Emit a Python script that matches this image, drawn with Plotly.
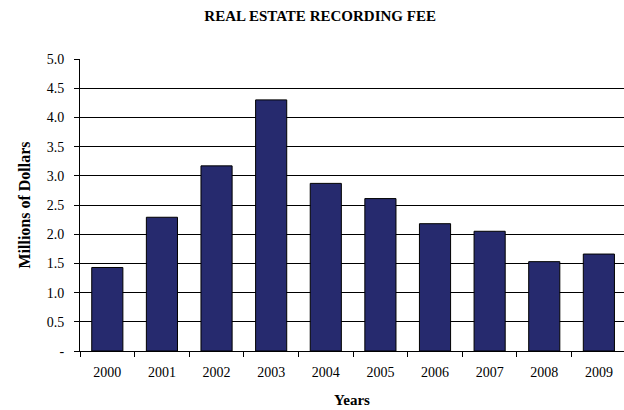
import plotly.graph_objects as go

years = ["2000", "2001", "2002", "2003", "2004", "2005", "2006", "2007", "2008", "2009"]
fees = [1.43, 2.29, 3.17, 4.30, 2.87, 2.61, 2.18, 2.05, 1.53, 1.66]
y_ticks = [0, 0.5, 1.0, 1.5, 2.0, 2.5, 3.0, 3.5, 4.0, 4.5, 5.0]
y_labels = ["-", "0.5", "1.0", "1.5", "2.0", "2.5", "3.0", "3.5", "4.0", "4.5", "5.0"]

serif = "Liberation Serif"

fig = go.Figure(go.Bar(
    x=years, y=fees,
    marker=dict(color="#262A6E", line=dict(color="#000000", width=1)),
    width=0.57,
))

fig.update_layout(
    width=624, height=410,
    margin=dict(l=80, r=0, t=59, b=59),
    paper_bgcolor="white", plot_bgcolor="white",
    showlegend=False,
    font=dict(family=serif, size=14, color="#000000"),
    title=dict(text="<b>REAL ESTATE RECORDING FEE</b>", x=0.513, xanchor="center",
               y=1 - 16 / 410, yanchor="middle", yref="container",
               font=dict(family=serif, size=15, color="#000000")),
    xaxis=dict(
        type="category", range=[-0.5, 9.46],
        showline=True, linecolor="#000000", linewidth=1,
        ticks="outside", tickson="boundaries", ticklen=5, tickcolor="#000000",
        ticklabelstandoff=8,
        showgrid=False,
        title=dict(text="<b>Years</b>", standoff=15, font=dict(family=serif, size=15)),
    ),
    yaxis=dict(
        range=[0, 5.0], tickvals=y_ticks, ticktext=y_labels,
        showline=True, linecolor="#000000", linewidth=1,
        ticks="outside", ticklen=5, tickcolor="#000000",
        ticklabelstandoff=7,
        showgrid=True, gridcolor="#000000", gridwidth=1,
        zeroline=False,
        title=dict(text="<b>Millions of Dollars</b>", standoff=12, font=dict(family=serif, size=16)),
    ),
)

fig.write_html("out.html")
